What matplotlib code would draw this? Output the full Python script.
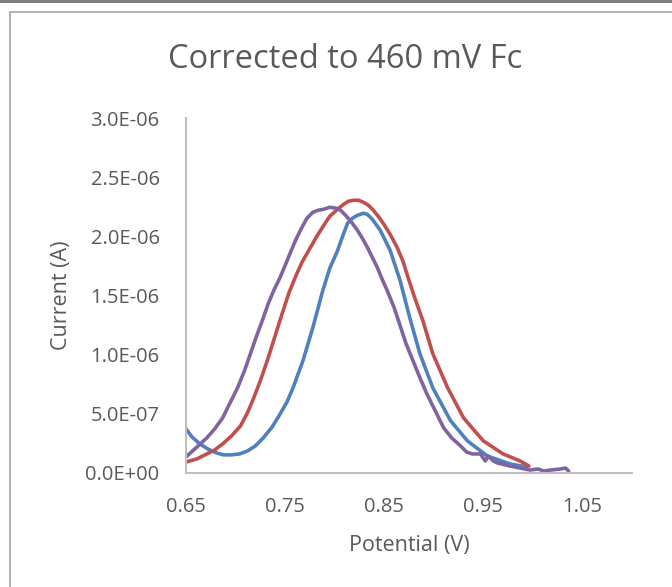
import matplotlib.pyplot as plt
import matplotlib.patches as patches
import numpy as np
from matplotlib.ticker import FuncFormatter

# data (potential in V, current in A)
blue_x = [0.650, 0.656, 0.664, 0.672, 0.681, 0.688, 0.695, 0.704, 0.712, 0.720, 0.728, 0.737, 0.745,
          0.752, 0.758, 0.768, 0.778, 0.788, 0.795, 0.803, 0.808, 0.813, 0.818, 0.823, 0.829, 0.833,
          0.838, 0.846, 0.856, 0.866, 0.876, 0.886, 0.899, 0.917, 0.934, 0.954, 0.977, 0.994]
blue_y = [3.73e-7, 3.05e-7, 2.46e-7, 2.03e-7, 1.69e-7, 1.53e-7, 1.53e-7, 1.61e-7, 1.86e-7, 2.29e-7,
          2.97e-7, 3.90e-7, 5.0e-7, 6.02e-7, 7.2e-7, 9.49e-7, 1.229e-6, 1.542e-6, 1.729e-6, 1.881e-6,
          2.0e-6, 2.110e-6, 2.153e-6, 2.178e-6, 2.195e-6, 2.186e-6, 2.144e-6, 2.051e-6, 1.881e-6,
          1.627e-6, 1.305e-6, 1.008e-6, 7.2e-7, 4.41e-7, 2.71e-7, 1.44e-7, 7.6e-8, 5.1e-8]

red_x = [0.650, 0.661, 0.671, 0.679, 0.687, 0.696, 0.705, 0.712, 0.718, 0.725, 0.732, 0.740, 0.747,
         0.754, 0.761, 0.767, 0.775, 0.782, 0.789, 0.795, 0.803, 0.809, 0.814, 0.819, 0.824, 0.829,
         0.834, 0.839, 0.844, 0.849, 0.856, 0.863, 0.869, 0.874, 0.881, 0.889, 0.899, 0.914, 0.930,
         0.950, 0.970, 0.987, 0.996]
red_y = [9.3e-8, 1.19e-7, 1.61e-7, 1.95e-7, 2.46e-7, 3.14e-7, 3.98e-7, 5.08e-7, 6.27e-7, 7.80e-7,
         9.49e-7, 1.161e-6, 1.347e-6, 1.525e-6, 1.669e-6, 1.780e-6, 1.898e-6, 2.0e-6, 2.093e-6,
         2.169e-6, 2.229e-6, 2.271e-6, 2.297e-6, 2.305e-6, 2.305e-6, 2.288e-6, 2.263e-6, 2.220e-6,
         2.169e-6, 2.110e-6, 2.017e-6, 1.907e-6, 1.788e-6, 1.653e-6, 1.475e-6, 1.288e-6, 1.008e-6,
         7.2e-7, 4.66e-7, 2.71e-7, 1.61e-7, 1.02e-7, 5.9e-8]

purple_x = [0.650, 0.660, 0.671, 0.679, 0.687, 0.694, 0.702, 0.709, 0.715, 0.721, 0.727, 0.733, 0.739,
            0.745, 0.750, 0.755, 0.761, 0.767, 0.772, 0.778, 0.783, 0.789, 0.795, 0.802, 0.806, 0.811,
            0.817, 0.823, 0.828, 0.833, 0.838, 0.843, 0.848, 0.853, 0.860, 0.866, 0.872, 0.879, 0.886,
            0.893, 0.902, 0.910, 0.918, 0.927, 0.933, 0.939, 0.947, 0.952, 0.955, 0.960, 0.964, 0.977,
            0.987, 0.997, 1.005, 1.011, 1.018, 1.028, 1.033, 1.036]
purple_y = [1.36e-7, 2.12e-7, 2.97e-7, 3.73e-7, 4.66e-7, 5.85e-7, 7.2e-7, 8.64e-7, 1.008e-6, 1.153e-6,
            1.288e-6, 1.432e-6, 1.551e-6, 1.653e-6, 1.754e-6, 1.856e-6, 1.975e-6, 2.076e-6, 2.153e-6,
            2.203e-6, 2.220e-6, 2.229e-6, 2.246e-6, 2.237e-6, 2.220e-6, 2.178e-6, 2.119e-6, 2.051e-6,
            1.983e-6, 1.907e-6, 1.822e-6, 1.737e-6, 1.636e-6, 1.542e-6, 1.398e-6, 1.246e-6, 1.093e-6,
            9.49e-7, 8.05e-7, 6.69e-7, 5.17e-7, 3.81e-7, 2.97e-7, 2.29e-7, 1.78e-7, 1.61e-7, 1.61e-7,
            1.02e-7, 1.44e-7, 1.02e-7, 8.5e-8, 5.9e-8, 4.2e-8, 2.5e-8, 3.4e-8, 1.7e-8, 2.5e-8, 3.4e-8,
            4.2e-8, 1.7e-8]

x_ticks = [0.65, 0.75, 0.85, 0.95, 1.05]
y_ticks = [0, 5e-7, 1e-6, 1.5e-6, 2e-6, 2.5e-6, 3e-6]

plt.rcParams['font.family'] = ['Open Sans', 'DejaVu Sans']
txt = '#595959'

fig = plt.figure(figsize=(6.72, 5.87), dpi=100)
W, H = 672, 587

# chart frame like the Excel chart area
fig.patches.append(patches.Rectangle((0, 1 - 3 / H), 1, 3 / H, transform=fig.transFigure,
                                     facecolor='#7f7f7f', edgecolor='none'))
fig.patches.append(patches.Rectangle((10 / W, -0.01), 1, 1 - 12 / H + 0.01, transform=fig.transFigure,
                                     facecolor='none', edgecolor='#a6a6a6', linewidth=1.2))

ax = fig.add_axes([186 / W, 1 - 473 / H, (632 - 186) / W, (473 - 118) / H])

for xs, ys, c in [(blue_x, blue_y, '#4F81BD'), (red_x, red_y, '#C0504D'), (purple_x, purple_y, '#8064A2')]:
    ax.plot(xs, ys, color=c, linewidth=2.6, solid_capstyle='round', solid_joinstyle='round')

ax.set_xlim(0.65, 1.10)
ax.set_ylim(0, 3e-6)
ax.set_xticks(x_ticks)
ax.set_yticks(y_ticks)
ax.xaxis.set_major_formatter(FuncFormatter(lambda v, p: f'{v:.2f}'))
ax.yaxis.set_major_formatter(FuncFormatter(lambda v, p: f'{v:.1E}'))
ax.tick_params(axis='both', length=0, labelsize=14.5, colors=txt)
ax.tick_params(axis='y', pad=19)
ax.tick_params(axis='x', pad=17)

for s in ['top', 'right']:
    ax.spines[s].set_visible(False)
for s in ['left', 'bottom']:
    ax.spines[s].set_color('#bfbfbf')
    ax.spines[s].set_linewidth(1.5)

fig.text(345 / W, 1 - 60 / H, 'Corrected to 460 mV Fc', ha='center', va='center', fontsize=23.5, color=txt)
fig.text(62 / W, 1 - 295 / H, 'Current (A)', ha='center', va='center', rotation=90, fontsize=15.5, color=txt)
fig.text(409 / W, 1 - 546 / H, 'Potential (V)', ha='center', va='center', fontsize=15.5, color=txt)

plt.savefig('out.png', dpi=100)
